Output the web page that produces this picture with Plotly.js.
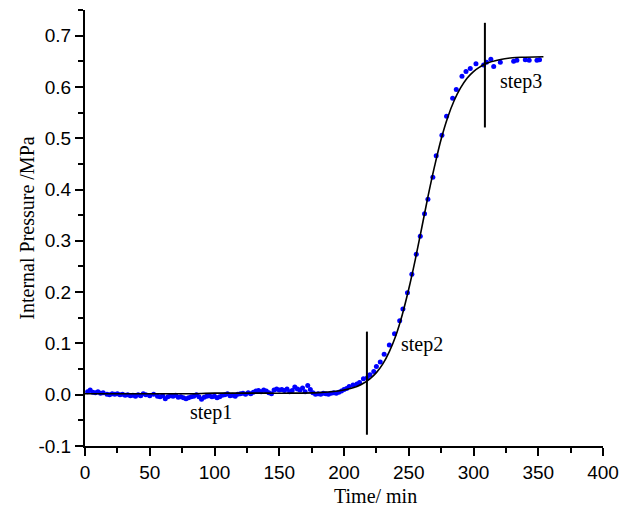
<!DOCTYPE html>
<html>
<head>
<meta charset="utf-8">
<script src="https://cdn.plot.ly/plotly-3.0.1.min.js"></script>
<style>html,body{margin:0;padding:0;background:#fff;}#chart{width:642px;height:509px;}</style>
</head>
<body>
<div id="chart"></div>
<script>
// Measured data (time in min, internal pressure in MPa)
const timeData = [2,4,6,8,10,12,14,17,19,21,23,25,27,29,31,33,35,37,39,41,43,45,47,50,53,56,58,60,62,64,66,68,70,72,74,76,78,80,82,84,86,88,90,92,94,96,98,100,102,104,106,108,110,112,114,116,118,120,122,124,126,128,130,132,134,136,138,140,142,144,146,148,150,152,154,156,158,160,162,164,166,168,170,172,174,176,178,180,182,184,186,188,190,192,194,196,198,200,202,
  204,207,210,212,215,218,220,223,225,228,231,235,239,243,245.5,249,252.4,255.8,258.9,262.2,264.8,268.6,271.2,275.6,279.2,283.9,286.7,291.1,294.2,297.5,301.9,307.8,310,313.4,315.6,320.7,331,333.5,340,343,349,351];
const pressureData = [0.006,0.009,0.005,0.004,0.006,0.003,0.004,0.001,0.000,0.002,0.001,0.002,0.000,0.001,-0.001,0.000,-0.002,-0.001,-0.003,0.000,-0.002,0.002,0.000,-0.002,0.001,-0.003,-0.004,-0.002,-0.008,-0.004,-0.002,-0.003,-0.001,-0.005,-0.004,-0.006,-0.008,-0.006,-0.004,-0.003,0.000,-0.004,-0.009,-0.005,-0.003,-0.002,-0.004,-0.003,-0.006,-0.004,-0.001,0.000,0.002,-0.002,-0.001,-0.003,0.001,0.002,0.003,0.001,0.004,0.002,0.005,0.007,0.008,0.006,0.009,0.007,0.004,0.002,0.009,0.011,0.009,0.010,0.008,0.011,0.006,0.008,0.015,0.011,0.009,0.013,0.006,0.018,0.010,0.004,0.001,0.002,0.001,0.003,0.002,0.001,0.003,0.004,0.003,0.005,0.007,0.010,0.012,
  0.016,0.019,0.021,0.024,0.031,0.033,0.039,0.045,0.055,0.064,0.079,0.097,0.119,0.144,0.167,0.199,0.235,0.274,0.309,0.353,0.381,0.424,0.466,0.506,0.543,0.578,0.595,0.621,0.630,0.636,0.645,0.643,0.648,0.654,0.640,0.648,0.650,0.652,0.653,0.652,0.652,0.653];

// Fitted curve
const fitTime = [0,20,40,60,80,100,120,140,160,180,190,200,205,210,215,220,225,230,235,240,245,250,255,260,265,270,275,280,285,290,295,300,305,310,320,330,340,354];
const fitPressure = [0.002,0.002,0.002,0.002,0.002,0.003,0.003,0.003,0.003,0.004,0.0058,0.0092,0.012,0.0162,0.0223,0.031,0.043,0.060,0.084,0.115,0.156,0.206,0.263,0.325,0.388,0.446,0.498,0.540,0.573,0.598,0.617,0.630,0.639,0.646,0.653,0.657,0.658,0.659];

// Step marker lines
const step2LineX = [217.7, 217.7];
const step2LineY = [-0.078, 0.123];
const step3LineX = [308.8, 308.8];
const step3LineY = [0.521, 0.725];

// Step labels
const stepLabels = ['step1', 'step2', 'step3'];
const stepLabelX = [97.4, 260.4, 336.5];
const stepLabelY = [-0.035, 0.097, 0.61];

// Axis ticks
const xTickVals = [0,50,100,150,200,250,300,350,400];
const xTickText = ['0','50','100','150','200','250','300','350','400'];
const yTickVals = [-0.1,0.0,0.1,0.2,0.3,0.4,0.5,0.6,0.7];
const yTickText = ['-0.1','0.0','0.1','0.2','0.3','0.4','0.5','0.6','0.7'];

const traces = [
  {x: timeData, y: pressureData, type: 'scatter', mode: 'markers',
   marker: {color: '#0000ff', size: 5}, hoverinfo: 'x+y'},
  {x: fitTime, y: fitPressure, type: 'scatter', mode: 'lines',
   line: {color: '#000', width: 1.6, shape: 'spline'}},
  {x: step2LineX, y: step2LineY, type: 'scatter', mode: 'lines', line: {color: '#000', width: 2}},
  {x: step3LineX, y: step3LineY, type: 'scatter', mode: 'lines', line: {color: '#000', width: 2}}
];

const serif = 'Liberation Serif, Times New Roman, serif';
const sans = 'Liberation Sans, Arial, sans-serif';

const annotations = stepLabels.map((t, i) => ({
  x: stepLabelX[i], y: stepLabelY[i], xref: 'x', yref: 'y', text: t, showarrow: false,
  font: {family: serif, size: 20, color: '#000'}
}));
annotations.push({
  x: 0.56, y: -0.115, xref: 'paper', yref: 'paper', text: 'Time/ min', showarrow: false,
  xanchor: 'center', yanchor: 'middle', font: {family: serif, size: 20, color: '#000'}
});

const layout = {
  width: 642, height: 509,
  margin: {l: 85, r: 39, t: 10, b: 63},
  paper_bgcolor: '#fff', plot_bgcolor: '#fff',
  showlegend: false,
  font: {family: sans, color: '#000'},
  xaxis: {
    range: [0, 400], showgrid: false, zeroline: false,
    showline: true, linecolor: '#000', linewidth: 2,
    tickmode: 'array', tickvals: xTickVals, ticktext: xTickText,
    ticks: 'outside', ticklen: 8, tickwidth: 2, tickcolor: '#000',
    minor: {dtick: 25, tick0: 0, ticks: 'outside', ticklen: 5, tickwidth: 2, tickcolor: '#000', showgrid: false},
    tickfont: {family: sans, size: 19, color: '#000'},
    automargin: false
  },
  yaxis: {
    range: [-0.1, 0.75], showgrid: false, zeroline: false,
    showline: true, linecolor: '#000', linewidth: 2,
    tickmode: 'array', tickvals: yTickVals, ticktext: yTickText,
    ticks: 'outside', ticklen: 8, tickwidth: 2, tickcolor: '#000',
    minor: {dtick: 0.05, tick0: 0, ticks: 'outside', ticklen: 5, tickwidth: 2, tickcolor: '#000', showgrid: false},
    tickfont: {family: sans, size: 19, color: '#000'},
    title: {text: 'Internal Pressure /MPa', font: {family: serif, size: 20, color: '#000'}},
    automargin: false
  },
  annotations: annotations
};

Plotly.newPlot('chart', traces, layout, {displayModeBar: false, staticPlot: true});
</script>
</body>
</html>
